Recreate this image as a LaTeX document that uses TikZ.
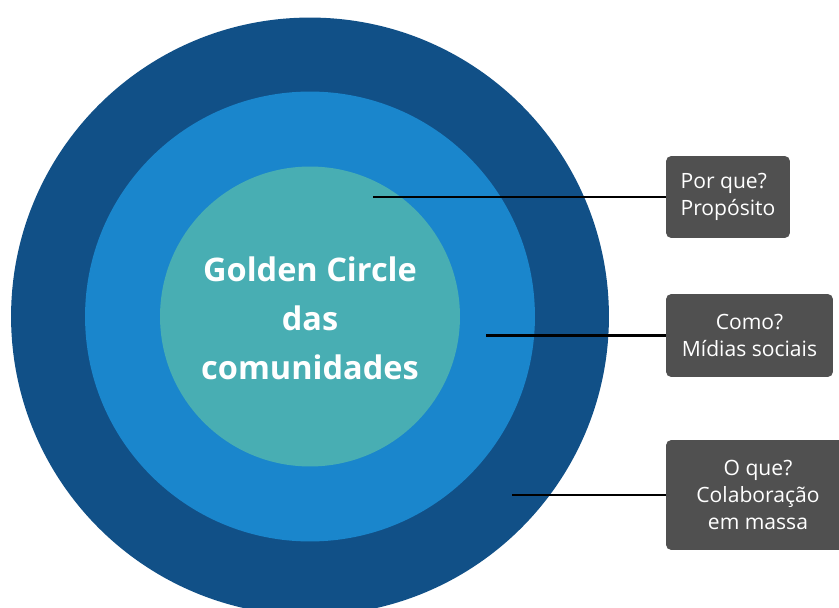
\documentclass[tikz,border=0pt]{standalone}
\usepackage{fontspec}
\setmainfont{Open Sans}
\usetikzlibrary{math}

\definecolor{ringout}{RGB}{17,80,135}
\definecolor{ringmid}{RGB}{26,134,204}
\definecolor{ringin}{RGB}{72,174,179}
\definecolor{boxgray}{RGB}{80,80,80}

\begin{document}
\begin{tikzpicture}[x=0.02cm, y=-0.02cm,
  ring/.style={circle, draw=none, inner sep=0pt},
  tag/.style={rectangle, rounded corners=3pt, fill=boxgray, text=white,
    inner sep=0pt, font=\fontsize{12}{15}\selectfont},
  leader/.style={black, line width=1.2pt}]

\tikzmath{
\cx = 310;
\cy = 316.5;
}

\useasboundingbox (0,0) rectangle (839,608);
\clip (0,0) rectangle (839,608);

% three rings
\node[ring, fill=ringout, minimum size=11.96cm] (outer) at (\cx,\cy) {};
\node[ring, fill=ringmid, minimum size=9.00cm] (middle) at (\cx,\cy) {};
\node[ring, fill=ringin, minimum size=6.00cm] (inner) at (\cx,\cy) {};

\node[align=center, text=white, font=\bfseries\fontsize{18.5}{27.8}\selectfont] (title) at (\cx,318) {Golden Circle\\das\\comunidades};

% labels on the right
\node[tag, align=left, minimum width=2.48cm, minimum height=1.64cm] (why) at (728,197) {Por que?\\Propósito};
\node[tag, align=center, minimum width=3.34cm, minimum height=1.66cm] (how) at (749.5,335.5) {Como?\\Mídias sociais};
\node[tag, align=center, minimum width=3.68cm, minimum height=2.20cm, font=\fontsize{12}{15.6}\selectfont] (what) at (758,495) {O que?\\Colaboração\\em massa};

\coordinate (pwhy) at (373,197);
\coordinate (phow) at (486,335.5);
\coordinate (pwhat) at (512,495);

\draw[leader] (pwhy) -- (why.west);
\draw[leader] (phow) -- (how.west);
\draw[leader] (pwhat) -- (what.west);

\end{tikzpicture}
\end{document}
